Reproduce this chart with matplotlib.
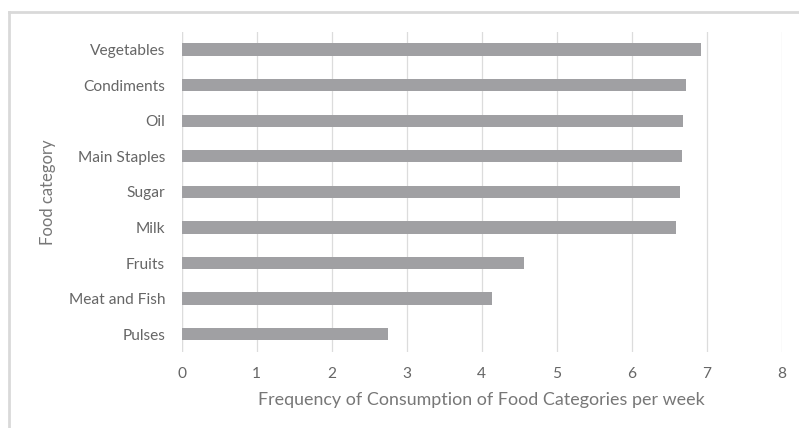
import matplotlib
matplotlib.use("Agg")
import matplotlib.pyplot as plt
from matplotlib.lines import Line2D

categories = ["Pulses", "Meat and Fish", "Fruits", "Milk", "Sugar",
              "Main Staples", "Oil", "Condiments", "Vegetables"]
values = [2.75, 4.14, 4.57, 6.59, 6.64, 6.67, 6.69, 6.72, 6.92]
x_ticks = [0, 1, 2, 3, 4, 5, 6, 7, 8]

plt.rcParams["font.family"] = ["Lato", "DejaVu Sans"]

fig = plt.figure(figsize=(7.99, 4.28), dpi=100)
fig.patch.set_facecolor("white")
ax = fig.add_axes([0.2274, 0.1776, 0.7509, 0.7484])

y = list(range(len(categories)))
ax.barh(y, values, height=0.345, color="#a0a0a3", zorder=3)

ax.set_xlim(0, 8)
ax.set_ylim(-0.5, len(categories) - 0.5)
ax.set_xticks(x_ticks)
ax.set_yticks(y)
ax.set_yticklabels(categories)
ax.grid(axis="x", color="#dcdcdc", linewidth=0.9, zorder=0)
ax.grid(axis="y", visible=False)
for s in ax.spines.values():
    s.set_visible(False)
ax.axvline(0, color="#dcdcdc", linewidth=0.9, zorder=1)
ax.tick_params(axis="both", length=0, colors="#666666", labelsize=11.2)
ax.tick_params(axis="y", pad=12)
ax.tick_params(axis="x", pad=11)

ax.set_xlabel("Frequency of Consumption of Food Categories per week",
              fontsize=12.9, color="#777777", labelpad=8)
ax.set_ylabel("Food category", fontsize=12, color="#777777", labelpad=9)

# chart frame (top and left edges)
fig.add_artist(Line2D([8.5 / 799, 1.0], [1 - 12 / 428, 1 - 12 / 428],
                      transform=fig.transFigure, color="#d9d9d9", linewidth=2))
fig.add_artist(Line2D([8.5 / 799, 8.5 / 799], [0.0, 1 - 12 / 428],
                      transform=fig.transFigure, color="#d9d9d9", linewidth=2))

fig.savefig("out.png", dpi=100, facecolor="white")
